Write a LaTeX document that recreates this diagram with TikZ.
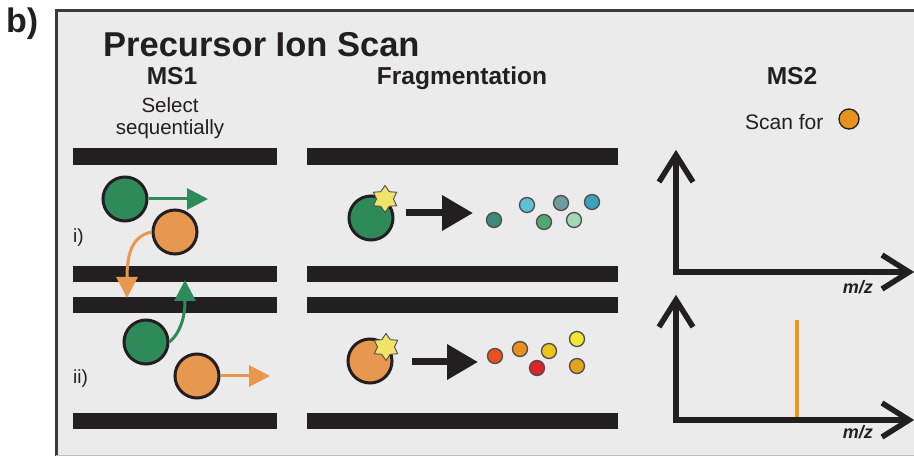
\documentclass[tikz,border=0pt]{standalone}
\usepackage{fontspec}
\setmainfont{Liberation Sans}
\usetikzlibrary{arrows.meta,shapes.geometric}
\definecolor{bgc}{HTML}{EBEBEB}
\definecolor{framec}{HTML}{3A3A3A}
\definecolor{barc}{HTML}{231F20}
\definecolor{ionG}{HTML}{2F8A5A}
\definecolor{ionO}{HTML}{E8974E}
\definecolor{starc}{HTML}{F0E468}
\definecolor{peakc}{HTML}{E8961E}
\definecolor{scanc}{HTML}{E8921E}
\definecolor{ca1}{HTML}{3D8A7A}
\definecolor{ca2}{HTML}{5CC0D6}
\definecolor{ca3}{HTML}{4FA872}
\definecolor{ca4}{HTML}{6F9C9C}
\definecolor{ca5}{HTML}{A0D8B4}
\definecolor{ca6}{HTML}{3FA0BA}
\definecolor{cb1}{HTML}{E8521F}
\definecolor{cb2}{HTML}{E8901C}
\definecolor{cb3}{HTML}{E0222A}
\definecolor{cb4}{HTML}{EAC51C}
\definecolor{cb5}{HTML}{F2E632}
\definecolor{cb6}{HTML}{E2A41E}
\tikzset{
  ion/.style={circle,draw=barc,line width=3pt,minimum size=44pt,inner sep=0pt},
  dot/.style={circle,draw=barc!80,line width=1.3pt,minimum size=15pt,inner sep=0pt,fill=#1},
  burst/.style={star,star points=6,star point ratio=1.6,minimum size=27pt,inner sep=0pt,fill=starc,draw=barc!80,line width=0.9pt},
  movearrow/.style={line width=3pt,draw=#1,-{Triangle[length=21pt,width=21pt]}},
  bigarrow/.style={line width=7pt,draw=barc,-{Triangle[length=31pt,width=34pt]}},
  axisline/.style={line width=5.5pt,draw=barc,line cap=butt,line join=miter},
  txt/.style={inner sep=0pt,text=barc,font=\fontsize{#1}{#1}\selectfont},
  btxt/.style={inner sep=0pt,text=barc,font=\bfseries\fontsize{#1}{#1}\selectfont},
  mztxt/.style={inner sep=0pt,text=barc,font=\bfseries\itshape\fontsize{18}{18}\selectfont,anchor=base east},
}
\begin{document}
\begin{tikzpicture}[x=1pt,y=-1pt]
\useasboundingbox (0,0) rectangle (914,457);
% frame
\fill[bgc] (56,11) rectangle (916,455);
\draw[framec,line width=3pt] (56,456) -- (56,11) -- (916,11);
\draw[gray!50,line width=1pt] (56,455) -- (916,455);
% titles
\node[btxt=34,anchor=base west] (lab) at (6,33) {b)};
\node[btxt=34.5,anchor=base west] (title) at (103,57) {Precursor Ion Scan};
\node[btxt=24.5,anchor=base] (ms1) at (172,85) {MS1};
\node[btxt=24.5,anchor=base] (frag) at (462,85) {Fragmentation};
\node[btxt=24.5,anchor=base] (ms2) at (792,85) {MS2};
\node[txt=20.5,anchor=base] (sel) at (170,113) {Select};
\node[txt=20.5,anchor=base] (seq) at (170,135) {sequentially};
\node[txt=21,anchor=base west] (scan) at (745,130) {Scan for};
\node[circle,draw=barc,line width=1.3pt,fill=scanc,minimum size=20pt,inner sep=0pt] (scandot) at (849,119) {};
\node[txt=19,anchor=base west] (li) at (73,243) {i)};
\node[txt=19,anchor=base west] (lii) at (73,384) {ii)};
% bars
\foreach \ya/\yb in {148/165,266/282,297/313,413/429}{
  \fill[barc] (73,\ya) rectangle (277,\yb);
  \fill[barc] (307,\ya) rectangle (618,\yb);
}
% MS1 i)
\node[ion,fill=ionG] (g1) at (125,199) {};
\coordinate (g1t) at (208,199);
\draw[movearrow=ionG] (g1.east) -- (g1t);
\node[ion,fill=ionO] (o1) at (175,232) {};
\coordinate (o1t) at (127,298);
\draw[movearrow=ionO] (o1.west) .. controls (133,236) and (127,252) .. (o1t);
% MS1 ii)
\node[ion,fill=ionG] (g2) at (146,342) {};
\coordinate (g2t) at (185,280);
\draw[movearrow=ionG] (g2.east) .. controls (180,333) and (185,318) .. (g2t);
\node[ion,fill=ionO] (o2) at (197,376) {};
\coordinate (o2t) at (270,376);
\draw[movearrow=ionO] (o2.east) -- (o2t);
% Fragmentation i)
\node[ion,fill=ionG] (fg) at (371,218) {};
\node[burst] (sg) at (385,199) {};
\coordinate (fa1) at (406,213);
\coordinate (fa1t) at (473,213);
\draw[bigarrow] (fa1) -- (fa1t);
\node[dot=ca1] (a1) at (494,220) {};
\node[dot=ca2] (a2) at (527,205) {};
\node[dot=ca3] (a3) at (544,222) {};
\node[dot=ca4] (a4) at (561,203) {};
\node[dot=ca5] (a5) at (574,220) {};
\node[dot=ca6] (a6) at (592,202) {};
% Fragmentation ii)
\node[ion,fill=ionO] (fo) at (370,361) {};
\node[burst] (so) at (386,347) {};
\coordinate (fa2) at (412,362);
\coordinate (fa2t) at (478,362);
\draw[bigarrow] (fa2) -- (fa2t);
\node[dot=cb1] (b1) at (495,356) {};
\node[dot=cb2] (b2) at (520,349) {};
\node[dot=cb3] (b3) at (537,368) {};
\node[dot=cb4] (b4) at (549,351) {};
\node[dot=cb5] (b5) at (577,339) {};
\node[dot=cb6] (b6) at (577,366) {};
% MS2 top graph
\coordinate (o3) at (676,272);
\coordinate (y3) at (676,155);
\coordinate (x3) at (909,272);
\draw[axisline] (y3) -- (o3) -- (x3);
\draw[axisline] (659,182) -- (y3) -- (693,182);
\draw[axisline] (882,255) -- (x3) -- (882,289);
\node[mztxt] (mz1) at (873,294) {m/z};
% MS2 bottom graph
\coordinate (o4) at (676,420);
\coordinate (y4) at (676,300);
\coordinate (x4) at (909,420);
\coordinate (pk) at (797,320);
\coordinate (pkb) at (797,418);
\draw[peakc,line width=4pt] (pkb) -- (pk);
\draw[axisline] (y4) -- (o4) -- (x4);
\draw[axisline] (659,327) -- (y4) -- (693,327);
\draw[axisline] (882,403) -- (x4) -- (882,437);
\node[mztxt] (mz2) at (873,438) {m/z};
\end{tikzpicture}
\end{document}
